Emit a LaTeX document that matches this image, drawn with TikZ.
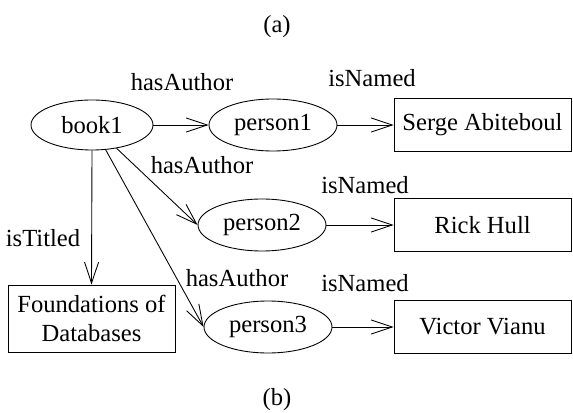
\documentclass[tikz,border=0pt]{standalone}
\usepackage{fontspec}
\setmainfont{Liberation Serif}
\usepackage{tikz}
\usetikzlibrary{shapes.geometric, arrows.meta, positioning}

\begin{document}
\begin{tikzpicture}[x=0.02cm, y=0.02cm,
  every node/.style={font=\fontsize{14}{17}\selectfont},
  res/.style={draw, ellipse, line width=0.5pt, minimum width=2.56cm, minimum height=1.04cm, inner sep=0pt},
  lit/.style={draw, rectangle, line width=0.5pt, minimum width=3.54cm, minimum height=1.06cm, inner sep=0pt},
  rel/.style={-{Straight Barb[length=12pt, width=8pt]}, line width=0.5pt}]
\useasboundingbox (0,0) rectangle (573,412);
% Captions
\node (capa) at (277,385) {(a)};
\node (capb) at (277,12) {(b)};
% Resources
\node[res, minimum width=2.44cm, minimum height=1cm] (book1) at (92,287) {book1};
\node[res] (person1) at (273,287) {person1};
\node[res] (person2) at (262,187) {person2};
\node[res] (person3) at (268,85) {person3};
% Literals
\node[lit] (serge) at (482.5,287) {Serge Abiteboul};
\node[lit] (rick) at (482.5,187) {Rick Hull};
\node[lit] (victor) at (482.5,85) {Victor Vianu};
\node[lit, minimum width=3.34cm, minimum height=1.34cm, align=center] (fdb) at (91.5,93.5) {Foundations of\\Databases};
% Properties
\draw[rel] (book1.east) -- (person1.west);
\draw[rel] (book1) -- (person2.west);
\draw[rel] (book1) -- (person3.west);
\draw[rel] (book1.south) -- (fdb.north);
\draw[rel] (person1.east) -- (serge.west);
\draw[rel] (person2.east) -- (rick.west);
\draw[rel] (person3.east) -- (victor.west);
% Property labels
\node (ha1) at (182,330) {hasAuthor};
\node (ha2) at (202,247) {hasAuthor};
\node (ha3) at (237,134) {hasAuthor};
\node (in1) at (372,334) {isNamed};
\node (in2) at (365,227) {isNamed};
\node (in3) at (365,129) {isNamed};
\node (it) at (43,174) {isTitled};
\end{tikzpicture}
\end{document}
